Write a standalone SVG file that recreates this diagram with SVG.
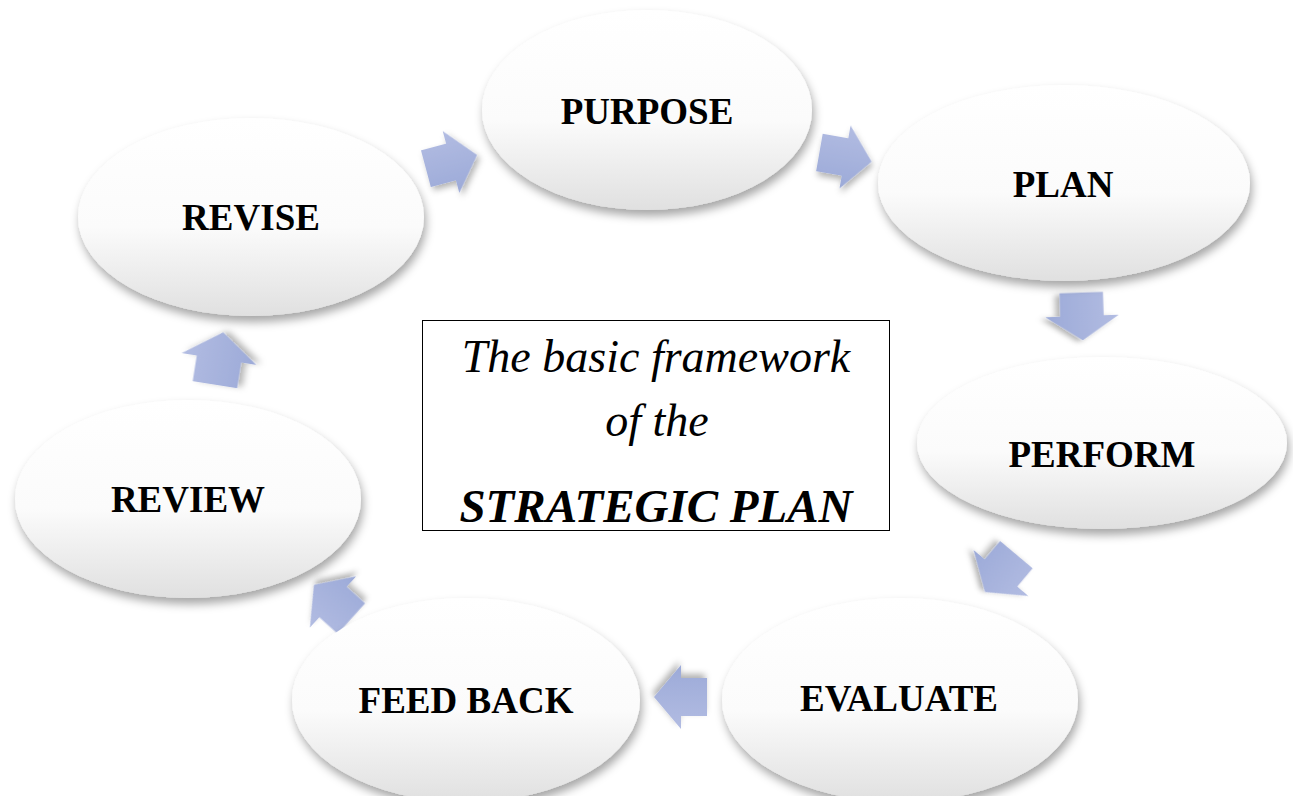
<svg xmlns="http://www.w3.org/2000/svg" width="1293" height="796" viewBox="0 0 1293 796">
<defs>
<linearGradient id="eg" x1="0" y1="0" x2="0" y2="1">
<stop offset="0" stop-color="#ffffff"/>
<stop offset="0.55" stop-color="#fbfbfb"/>
<stop offset="1" stop-color="#e0e0e0"/>
</linearGradient>
<linearGradient id="ag" x1="0" y1="0" x2="0" y2="1" gradientUnits="objectBoundingBox">
<stop offset="0" stop-color="#b2bce2"/>
<stop offset="1" stop-color="#9caad8"/>
</linearGradient>
<filter id="sh" x="-20%" y="-20%" width="140%" height="150%">
<feDropShadow dx="2" dy="6" stdDeviation="5" flood-color="#000" flood-opacity="0.35"/>
</filter>
<filter id="ash" x="-40%" y="-40%" width="180%" height="180%">
<feDropShadow dx="2" dy="4" stdDeviation="3" flood-color="#000" flood-opacity="0.3"/>
</filter>
<path id="arr" d="M-26,-19 H0 V-32 L27,0 L0,32 V19 H-26 Z"/>
</defs>
<style>
.node ellipse{fill:url(#eg);filter:url(#sh);}
.lbl{font-family:"Liberation Serif","Times New Roman",serif;font-weight:bold;font-size:37px;fill:#000;text-anchor:middle;}
.a{fill:url(#ag);filter:url(#ash);}
.title{font-family:"Liberation Serif","Times New Roman",serif;font-style:italic;fill:#000;text-anchor:middle;}
</style>
<rect width="1293" height="796" fill="#ffffff"/>
<g id="connectors">
<use href="#arr" class="a" transform="translate(451,162) rotate(-15)"/>
<use href="#arr" class="a" transform="translate(845,157) rotate(10)"/>
<use href="#arr" class="a" transform="translate(1082,316) rotate(88) scale(0.9,1.15)"/>
<use href="#arr" class="a" transform="translate(1001,573) rotate(130) scale(0.92,1.12)"/>
<use href="#arr" class="a" transform="translate(681,697) rotate(180)"/>
<use href="#arr" class="a" transform="translate(333,602) rotate(222) scale(0.95,1.08)"/>
<use href="#arr" class="a" transform="translate(219,359) rotate(-81) scale(1,1.18)"/>
</g>
<g id="node-purpose" class="node"><ellipse cx="647" cy="110" rx="165" ry="100"/><text class="lbl" x="647" y="124">PURPOSE</text></g>
<g id="node-plan" class="node"><ellipse cx="1064" cy="183" rx="186" ry="98"/><text class="lbl" x="1063" y="197">PLAN</text></g>
<g id="node-perform" class="node"><ellipse cx="1102" cy="443" rx="185" ry="86"/><text class="lbl" x="1102" y="467">PERFORM</text></g>
<g id="node-evaluate" class="node"><ellipse cx="900" cy="700" rx="178" ry="102"/><text class="lbl" x="899" y="711">EVALUATE</text></g>
<g id="node-feedback" class="node"><ellipse cx="466" cy="700" rx="174" ry="102"/><text class="lbl" x="466" y="713">FEED BACK</text></g>
<g id="node-review" class="node"><ellipse cx="188" cy="499" rx="173" ry="99"/><text class="lbl" x="188" y="512">REVIEW</text></g>
<g id="node-revise" class="node"><ellipse cx="251" cy="217" rx="173" ry="99"/><text class="lbl" x="251" y="230">REVISE</text></g>
<g id="title-box">
<rect x="422.5" y="320.5" width="467" height="210" fill="#ffffff" stroke="#000" stroke-width="1"/>
<text class="title" x="656" y="372" font-size="46">The basic framework</text>
<text class="title" x="657" y="436" font-size="46">of the</text>
<text class="title" x="656" y="522" font-size="47" font-weight="bold">STRATEGIC PLAN</text>
</g>
</svg>
